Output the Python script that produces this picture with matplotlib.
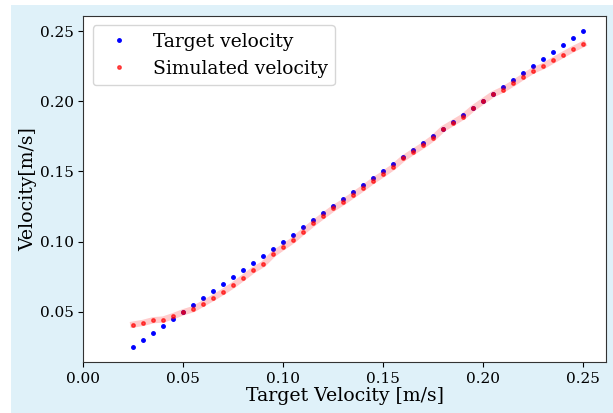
import matplotlib
matplotlib.use("Agg")
import matplotlib.pyplot as plt
from matplotlib.patches import Rectangle

plt.rcParams["font.family"] = "DejaVu Serif"

# commanded speeds [m/s]
target_velocity = [0.025, 0.030, 0.035, 0.040, 0.045, 0.050, 0.055, 0.060, 0.065, 0.070,
                   0.075, 0.080, 0.085, 0.090, 0.095, 0.100, 0.105, 0.110, 0.115, 0.120,
                   0.125, 0.130, 0.135, 0.140, 0.145, 0.150, 0.155, 0.160, 0.165, 0.170,
                   0.175, 0.180, 0.185, 0.190, 0.195, 0.200, 0.205, 0.210, 0.215, 0.220,
                   0.225, 0.230, 0.235, 0.240, 0.245, 0.250]

# speeds reached in simulation [m/s]
simulated_velocity = [0.0407, 0.0419, 0.0438, 0.0443, 0.0467, 0.0495, 0.0517, 0.0557, 0.0598, 0.0641,
                      0.0688, 0.0741, 0.0795, 0.0838, 0.0910, 0.0960, 0.1009, 0.1071, 0.1129, 0.1183,
                      0.1236, 0.1281, 0.1331, 0.1381, 0.1434, 0.1481, 0.1531, 0.1593, 0.1640, 0.1686,
                      0.1738, 0.1805, 0.1848, 0.1891, 0.1952, 0.2002, 0.2052, 0.2085, 0.2129, 0.2176,
                      0.2221, 0.2252, 0.2293, 0.2334, 0.2374, 0.2409]

fig = plt.figure(figsize=(6.13, 4.13), dpi=100)
fig.patch.set_facecolor("white")
fig.patches.append(Rectangle((11 / 613, 0), 1 - 11 / 613, 1 - 5 / 413,
                             transform=fig.transFigure, facecolor="#dff1f9",
                             edgecolor="none", zorder=-10))

ax = fig.add_axes([0.1359, 0.1228, 0.9881 - 0.1359, 0.962 - 0.1228])

ax.plot(target_velocity, target_velocity, "b.", markersize=5, label="Target velocity")
ax.plot(target_velocity, simulated_velocity, "-", color="red", alpha=0.2, linewidth=4.5)
ax.plot(target_velocity, simulated_velocity, ".", color="red", alpha=0.65, markersize=5,
        label="Simulated velocity")

ax.set_xlim(left=0)
ax.set_xlabel("Target Velocity [m/s]", fontsize=13.6, labelpad=1)
ax.set_ylabel("Velocity[m/s]", fontsize=13.6, labelpad=2)
ax.tick_params(labelsize=11)
for s in ax.spines.values():
    s.set_color("#333333")

ax.legend(loc="upper left", fontsize=13.5)

fig.savefig("out.png", dpi=100)
